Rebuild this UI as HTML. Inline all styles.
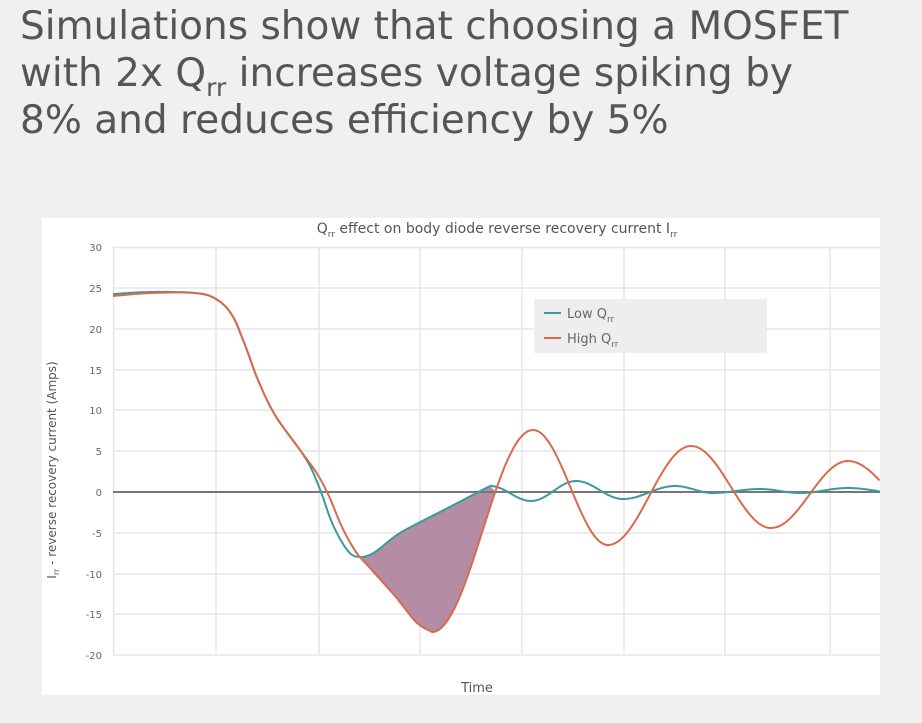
<!DOCTYPE html>
<html><head><meta charset="utf-8"><style>
body{margin:0;width:922px;height:723px;background:#f0f0f0;overflow:hidden;font-family:"DejaVu Sans","Liberation Sans",sans-serif;}
.t{position:absolute;left:20px;top:3px;font-size:39px;line-height:47px;color:#555;font-weight:normal;white-space:nowrap;}
.t sub{font-size:25px;vertical-align:-10px;line-height:0}
</style></head><body>
<div class="t">Simulations show that choosing a MOSFET<br>with 2x Q<sub>rr</sub> increases voltage spiking by<br>8% and reduces efficiency by 5%</div>
<svg id="s" width="922" height="723" style="position:absolute;left:0;top:0" font-family="DejaVu Sans, Liberation Sans, sans-serif">
<rect x="42" y="218" width="838" height="477" fill="#fff"/>
<g stroke="#e6e6e6" stroke-width="1.5">
<line x1="113" y1="247.5" x2="880" y2="247.5"/><line x1="113" y1="288" x2="880" y2="288"/><line x1="113" y1="329" x2="880" y2="329"/><line x1="113" y1="370" x2="880" y2="370"/><line x1="113" y1="410" x2="880" y2="410"/><line x1="113" y1="451" x2="880" y2="451"/><line x1="113" y1="533" x2="880" y2="533"/><line x1="113" y1="574" x2="880" y2="574"/><line x1="113" y1="614" x2="880" y2="614"/><line x1="113" y1="655" x2="880" y2="655"/>
<line x1="113.5" y1="247" x2="113.5" y2="655"/><line x1="216" y1="247" x2="216" y2="655"/><line x1="319" y1="247" x2="319" y2="655"/><line x1="420" y1="247" x2="420" y2="655"/><line x1="522" y1="247" x2="522" y2="655"/><line x1="624" y1="247" x2="624" y2="655"/><line x1="725" y1="247" x2="725" y2="655"/><line x1="830" y1="247" x2="830" y2="655"/>
</g>
<g font-size="10" fill="#666" text-anchor="end">
<text x="102" y="251">30</text><text x="102" y="292">25</text><text x="102" y="333">20</text><text x="102" y="374">15</text><text x="102" y="414">10</text><text x="102" y="455">5</text><text x="102" y="496">0</text><text x="102" y="537">-5</text><text x="102" y="578">-10</text><text x="102" y="618">-15</text><text x="102" y="659">-20</text>
</g>
<text transform="translate(56,470) rotate(-90)" font-size="12" fill="#555" text-anchor="middle">I<tspan font-size="8" dy="3">rr</tspan><tspan dy="-3"> - reverse recovery current (Amps)</tspan></text>
<text x="497" y="233" font-size="14" fill="#555" text-anchor="middle">Q<tspan font-size="9" dy="4">rr</tspan><tspan dy="-4"> effect on body diode reverse recovery current I</tspan><tspan font-size="9" dy="4">rr</tspan></text>
<text x="477" y="692" font-size="13" fill="#555" text-anchor="middle">Time</text>
<path id="fill" fill="#b48ca3" stroke="none"/>
<line x1="113" y1="492" x2="880" y2="492" stroke="#777" stroke-width="2"/>
<path id="teal" fill="none" stroke="#3a9a9c" stroke-width="2"/>
<path id="red" fill="none" stroke="#d9694f" stroke-width="2"/>
<rect x="534" y="299" width="233" height="54" fill="#eeeeee"/>
<line x1="544" y1="313" x2="561" y2="313" stroke="#3a9a9c" stroke-width="2"/>
<line x1="544" y1="338" x2="561" y2="338" stroke="#d9694f" stroke-width="2"/>
<text x="567" y="318" font-size="13" fill="#666">Low Q<tspan font-size="9" dy="4">rr</tspan></text>
<text x="567" y="343" font-size="13" fill="#666">High Q<tspan font-size="9" dy="4">rr</tspan></text>
</svg>
<script>
function sCR(p){const o=[];for(let i=0;i<p.length-1;i++){const a=p[i-1]||p[i],b=p[i],c=p[i+1],e=p[i+2]||c;
const c1=[b[0]+(c[0]-a[0])/6,b[1]+(c[1]-a[1])/6],c2=[c[0]-(e[0]-b[0])/6,c[1]-(e[1]-b[1])/6];
for(let k=0;k<10;k++){const t=k/10,u=1-t;o.push([u*u*u*b[0]+3*u*u*t*c1[0]+3*u*t*t*c2[0]+t*t*t*c[0],u*u*u*b[1]+3*u*u*t*c1[1]+3*u*t*t*c2[1]+t*t*t*c[1]]);}}
o.push(p[p.length-1]);return o;}
function sCos(p,xmax){const o=[];for(let i=0;i<p.length-1;i++){const a=p[i],b=p[i+1];for(let x=a[0];x<b[0];x+=1.5){if(x>xmax)return o;const t=(x-a[0])/(b[0]-a[0]);o.push([x,a[1]+(b[1]-a[1])*(1-Math.cos(Math.PI*t))/2]);}}return o;}
function d(p){return "M"+p.map(q=>q[0].toFixed(1)+","+q[1].toFixed(1)).join(" L");}
const red=sCR([[113,296],[150,293],[195,293],[216,299],[232,315],[245,345],[258,380],[275,415],[300,450],[316,472],[328,494],[342,527],[356,552],[370,568],[395,596],[416,622],[432,632]]).concat(sCos([[432,632],[533,430],[608,545],[691,446],[771,528],[848,461],[925,515]],880));
const teal=sCR([[113,294],[150,292],[195,293],[216,299],[232,315],[245,345],[258,380],[275,415],[300,450],[311,468],[321,492],[333,525],[348,551],[360,557],[375,552],[400,533],[440,512],[465,499],[490,486]]).concat(sCos([[490,486],[531,501],[576,481],[623,499],[675,486],[713,493],[760,489],[800,493],[848,488],[900,493]],880));
document.getElementById("red").setAttribute("d",d(red));
document.getElementById("teal").setAttribute("d",d(teal));
const tf=teal.filter(p=>p[0]>=362&&p[0]<=490),rf=red.filter(p=>p[0]>=362&&p[0]<=496).reverse();
document.getElementById("fill").setAttribute("d",d(tf.concat([[496,492]],rf))+" Z");
</script>
</body></html>
